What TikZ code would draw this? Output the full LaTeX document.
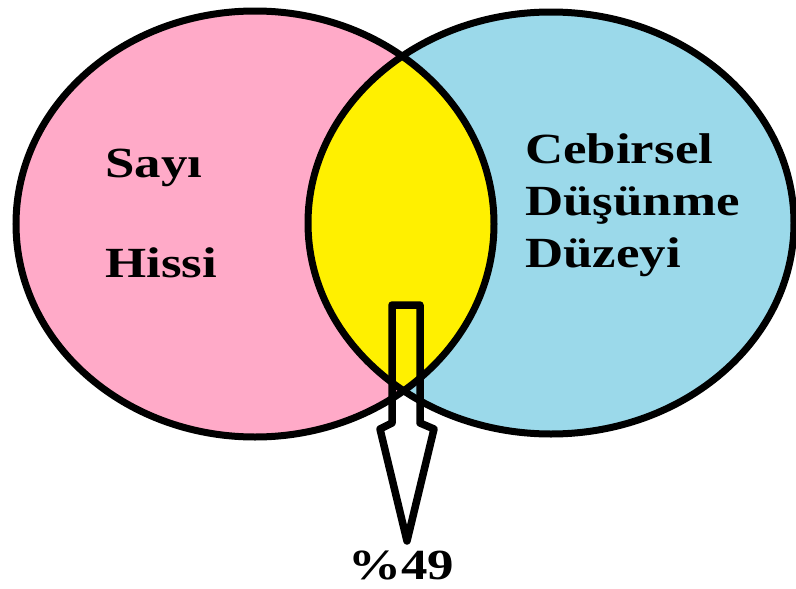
\documentclass[tikz,border=0pt]{standalone}
\usepackage{fontspec}
\newfontfamily\tnr[FakeStretch=1.23]{Liberation Serif}
\definecolor{pinkfill}{RGB}{255,170,200}
\definecolor{bluefill}{RGB}{155,217,234}
\definecolor{yelfill}{RGB}{255,240,0}
\tikzset{
  lbl/.style={anchor=base west, inner sep=0pt, font=\tnr\bfseries\fontsize{43}{52}\selectfont, text=black},
  outline/.style={draw=black, line width=7pt},
}
\begin{document}
\begin{tikzpicture}[x=1pt,y=-1pt]
\useasboundingbox (0,0) rectangle (796,589);
\coordinate (lc) at (255,224);
\coordinate (rc) at (551,223);
% fills
\fill[pinkfill] (lc) ellipse [x radius=239, y radius=213];
\fill[bluefill] (rc) ellipse [x radius=243, y radius=211];
\begin{scope}
  \clip (lc) ellipse [x radius=239, y radius=213];
  \fill[yelfill] (rc) ellipse [x radius=243, y radius=211];
\end{scope}
% outlines
\draw[outline] (lc) ellipse [x radius=239, y radius=213];
\draw[outline] (rc) ellipse [x radius=243, y radius=211];
% labels
\node[lbl] (sayi) at (105,177) {Sayı};
\node[lbl] (hissi) at (105,277) {Hissi};
\node[lbl] (ceb) at (525,163) {Cebirsel};
\node[lbl] (dus) at (525,215) {Düşünme};
\node[lbl] (duz) at (525,267) {Düzeyi};
\node[lbl, anchor=base, text depth=0pt] (pct) at (401,579) {\%49};
% block arrow
\draw[line width=7.5pt, line join=round]
  (392,305) -- (420,305) -- (420,423) -- (434,429) -- (407,541) -- (380,429) -- (392,423) -- cycle;
\end{tikzpicture}
\end{document}
